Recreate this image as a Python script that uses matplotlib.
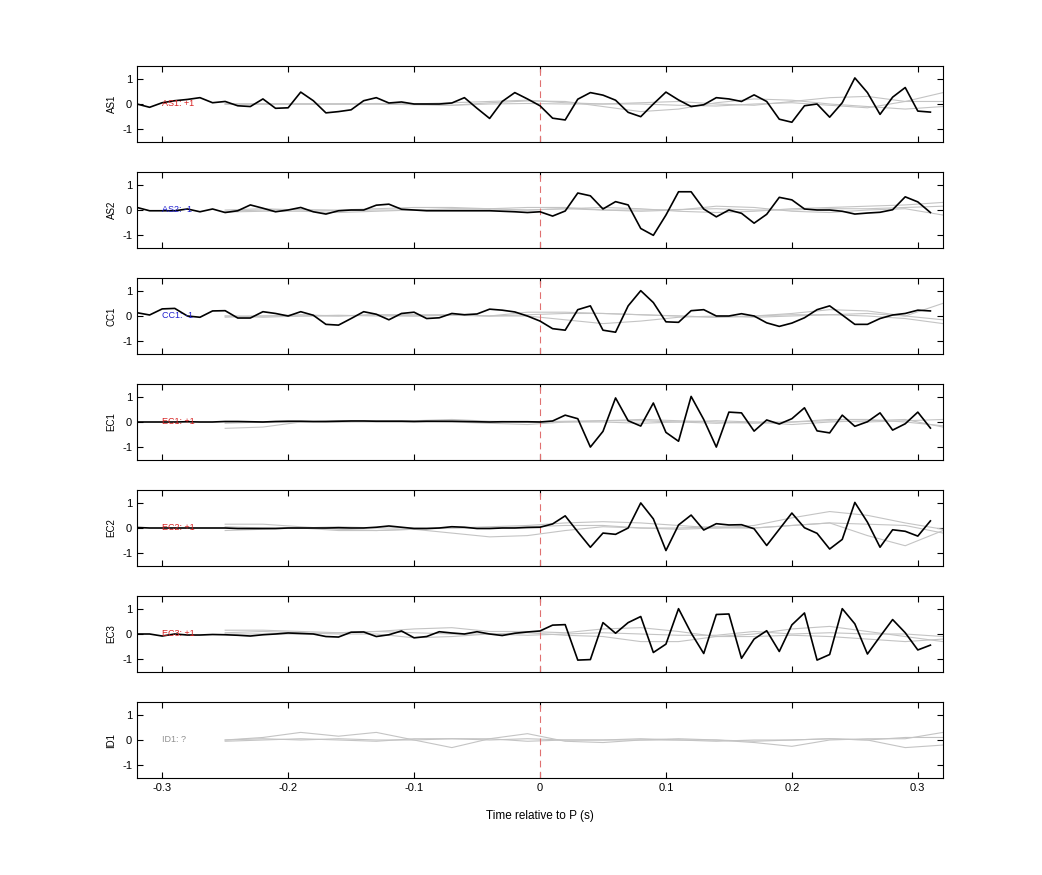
import numpy as np
import matplotlib.pyplot as plt

plt.rcParams['font.family'] = ['Liberation Sans', 'DejaVu Sans']
plt.rcParams['axes.unicode_minus'] = False

# station names and polarity picks
stations = ['AS1', 'AS2', 'CC1', 'EC1', 'EC2', 'EC3', 'ID1']
picks = ['AS1: +1', 'AS2: -1', 'CC1: -1', 'EC1: +1', 'EC2: +1', 'EC3: +1', 'ID1: ?']
pick_colors = ['#d62020', '#2020d0', '#2020d0', '#d62020', '#d62020', '#d62020', '#909090']

# black trace: samples every 0.01 s from -0.32 to 0.31
t_black = np.round(np.arange(-0.32, 0.315, 0.01), 2)
as1 = [0.0, -0.13, 0.05, 0.13, 0.18, 0.25, 0.05, 0.1, -0.07, -0.1, 0.2, -0.17, -0.15, 0.47, 0.13, -0.35, -0.3,
       -0.23, 0.13, 0.25, 0.04, 0.08, 0.0, 0.0, 0.0, 0.04, 0.25, -0.17, -0.57, 0.1, 0.45, 0.2, -0.07,
       -0.56, -0.63, 0.19, 0.45, 0.35, 0.15, -0.33, -0.5, 0.0, 0.47, 0.16, -0.1, -0.03, 0.25, 0.2, 0.1,
       0.36, 0.1, -0.6, -0.72, -0.07, 0.0, -0.52, 0.05, 1.03, 0.45, -0.41, 0.27, 0.65, -0.28, -0.32]
as2 = [0.1, -0.03, -0.03, -0.03, 0.04, -0.07, 0.04, -0.1, -0.03, 0.2, 0.07, -0.07, 0.0, 0.1, -0.07, -0.16,
       -0.03, 0.0, 0.0, 0.19, 0.23, 0.03, 0.0, -0.03, -0.03, -0.03, -0.03, -0.03, -0.03, -0.05, -0.07, -0.1, -0.07,
       -0.24, -0.04, 0.67, 0.56, 0.04, 0.33, 0.2, -0.73, -1.0, -0.2, 0.72, 0.72, 0.04, -0.27, 0.0, -0.13,
       -0.52, -0.17, 0.5, 0.4, 0.04, 0.0, 0.0, -0.05, -0.16, -0.12, -0.09, 0.01, 0.52, 0.32, -0.1]
cc1 = [0.13, 0.04, 0.28, 0.3, 0.0, -0.05, 0.2, 0.21, -0.08, -0.08, 0.17, 0.1, 0.0, 0.17, 0.03, -0.33,
       -0.36, -0.1, 0.17, 0.07, -0.15, 0.1, 0.15, -0.1, -0.07, 0.1, 0.05, 0.08, 0.27, 0.23, 0.16, 0.0,
       -0.2, -0.5, -0.56, 0.25, 0.4, -0.56, -0.64, 0.4, 1.0, 0.53, -0.23, -0.25, 0.21, 0.25, 0.0, 0.0,
       0.09, 0.0, -0.27, -0.41, -0.28, -0.07, 0.25, 0.4, 0.04, -0.33, -0.33, -0.1, 0.04, 0.1, 0.23, 0.2]
ec1 = [0.0, 0.0, 0.0, 0.0, 0.01, 0.0, 0.0, 0.02, 0.02, 0.01, 0.0, 0.02, 0.03, 0.03, 0.02, 0.02,
       0.03, 0.04, 0.04, 0.03, 0.03, 0.03, 0.02, 0.03, 0.03, 0.03, 0.02, 0.01, 0.0, 0.01, 0.01, 0.01,
       0.0, 0.04, 0.27, 0.13, -0.99, -0.37, 0.95, 0.05, -0.16, 0.75, -0.41, -0.76, 1.01, 0.1, -0.99, 0.39,
       0.36, -0.36, 0.08, -0.08, 0.13, 0.56, -0.35, -0.43, 0.27, -0.17, 0.01, 0.36, -0.32, -0.07, 0.39, -0.24]
ec2 = [0.02, 0.0, 0.0, 0.0, 0.0, 0.0, 0.0, 0.0, -0.02, -0.02, -0.02, -0.02, 0.0, 0.0, 0.0, 0.0,
       0.01, 0.0, 0.0, 0.03, 0.08, 0.03, -0.02, -0.02, 0.0, 0.05, 0.03, -0.02, -0.02, 0.0, 0.0, 0.02,
       0.03, 0.16, 0.48, -0.15, -0.76, -0.2, -0.25, 0.0, 0.99, 0.36, -0.89, 0.12, 0.51, -0.08, 0.17, 0.12,
       0.13, -0.03, -0.69, -0.05, 0.59, 0.01, -0.21, -0.83, -0.45, 1.01, 0.23, -0.76, -0.07, -0.13, -0.32, 0.28]
ec3 = [0.0, 0.0, -0.08, 0.0, -0.04, -0.04, -0.02, -0.03, -0.05, -0.08, -0.03, 0.0, 0.04, 0.02, 0.0, -0.1, -0.12,
       0.07, 0.08, -0.1, -0.03, 0.12, -0.15, -0.1, 0.09, 0.04, 0.0, 0.09, 0.0, -0.06, 0.03, 0.08, 0.12,
       0.35, 0.37, -1.03, -1.01, 0.45, 0.03, 0.45, 0.69, -0.73, -0.4, 1.0, 0.04, -0.77, 0.77, 0.79, -0.96,
       -0.2, 0.13, -0.69, 0.36, 0.83, -1.03, -0.81, 1.0, 0.4, -0.79, -0.1, 0.57, 0.05, -0.63, -0.44]
black = [as1, as2, cc1, ec1, ec2, ec3, None]

# gray traces: samples every 0.03 s from -0.25 to 0.32
t_gray = np.round(np.arange(-0.25, 0.33, 0.03), 2)
gray = [
    [[0.0, 0.0, 0.0, 0.0, 0.02, 0.0, -0.05, 0.05, 0.12, 0.1, -0.1, -0.3, -0.2, 0.05, 0.2, 0.15, 0.0, -0.1, -0.2, -0.1],
     [0.0, 0.0, 0.0, 0.0, 0.0, 0.0, 0.05, 0.1, 0.15, 0.05, 0.0, 0.05, 0.1, 0.0, -0.05, 0.1, 0.25, 0.3, 0.1, 0.45],
     [0.0, 0.0, 0.0, 0.0, 0.0, -0.03, -0.05, 0.0, 0.02, 0.0, 0.0, 0.0, -0.05, -0.08, 0.0, 0.05, -0.05, -0.15, 0.1, 0.1]],
    [[-0.08, -0.05, -0.05, -0.1, -0.05, 0.0, 0.05, 0.05, 0.0, 0.05, 0.1, 0.05, -0.05, -0.1, -0.05, 0.05, 0.1, 0.15, 0.2, 0.3],
     [0.0, 0.05, 0.0, 0.0, 0.05, 0.1, 0.1, 0.05, 0.1, 0.1, 0.0, -0.05, 0.0, 0.15, 0.1, -0.05, -0.1, 0.0, 0.05, -0.2],
     [-0.05, 0.0, 0.02, -0.03, 0.0, 0.0, 0.0, 0.0, 0.0, 0.05, 0.0, 0.0, 0.02, 0.05, 0.0, 0.0, 0.05, 0.05, 0.1, 0.15]],
    [[0.0, -0.05, 0.0, 0.0, 0.05, 0.0, 0.05, 0.0, 0.15, 0.15, 0.1, 0.05, 0.0, -0.05, 0.0, 0.1, 0.25, 0.2, 0.0, 0.5],
     [-0.05, 0.0, 0.05, 0.0, 0.05, 0.05, 0.05, 0.0, 0.0, -0.15, -0.3, -0.2, -0.05, 0.0, -0.05, 0.0, 0.05, 0.0, -0.1, -0.3],
     [0.0, 0.0, 0.0, 0.03, 0.0, 0.0, 0.03, 0.0, 0.05, 0.1, 0.1, 0.05, 0.0, -0.05, 0.0, 0.05, 0.05, 0.1, 0.0, -0.15]],
    [[-0.25, -0.2, 0.0, 0.05, 0.03, 0.05, 0.1, 0.03, 0.0, 0.0, 0.05, 0.1, 0.05, 0.0, -0.05, 0.0, 0.1, 0.1, 0.0, -0.15],
     [-0.05, 0.0, 0.0, 0.0, 0.05, 0.05, 0.0, -0.05, -0.1, 0.0, 0.0, -0.05, 0.0, 0.05, 0.0, -0.1, 0.0, 0.05, 0.1, -0.2],
     [0.0, 0.0, 0.0, 0.0, 0.0, 0.0, 0.0, 0.0, 0.0, 0.03, 0.05, 0.05, 0.0, -0.05, 0.0, 0.0, 0.05, 0.0, 0.05, 0.1]],
    [[0.15, 0.15, 0.05, -0.05, -0.1, -0.05, 0.0, 0.05, 0.1, 0.2, 0.25, 0.2, 0.1, 0.0, 0.1, 0.4, 0.65, 0.5, 0.2, -0.05],
     [-0.1, -0.05, 0.0, -0.1, -0.1, -0.05, -0.2, -0.35, -0.3, -0.1, 0.05, 0.0, -0.05, 0.0, 0.0, 0.1, 0.2, -0.3, -0.7, -0.1],
     [0.05, 0.0, 0.0, 0.05, 0.0, 0.0, 0.0, 0.0, 0.05, 0.1, 0.1, 0.0, 0.0, 0.05, 0.0, 0.1, 0.2, 0.15, 0.1, -0.2]],
    [[0.15, 0.15, 0.1, 0.05, 0.1, 0.2, 0.25, 0.1, 0.1, 0.05, 0.2, 0.25, 0.1, -0.1, 0.0, 0.2, 0.3, 0.1, -0.1, -0.3],
     [0.05, 0.1, 0.05, 0.0, 0.0, -0.15, -0.1, 0.0, 0.05, -0.05, -0.1, -0.3, -0.3, -0.1, -0.1, -0.05, -0.1, -0.2, -0.3, -0.2],
     [0.0, 0.0, 0.0, 0.05, 0.1, 0.05, 0.0, 0.0, -0.05, 0.0, 0.05, 0.0, -0.05, -0.05, 0.1, 0.0, 0.05, 0.0, 0.0, -0.1]],
    [[0.0, 0.1, 0.3, 0.15, 0.3, 0.0, -0.3, 0.05, 0.25, -0.05, -0.1, 0.0, 0.05, 0.0, -0.1, -0.25, 0.0, 0.05, 0.05, 0.3],
     [-0.05, 0.0, 0.05, 0.0, -0.05, 0.05, 0.05, 0.05, -0.05, 0.0, 0.0, 0.05, 0.0, -0.05, 0.0, 0.0, 0.05, 0.0, -0.3, -0.2],
     [0.0, 0.05, 0.0, 0.05, 0.0, 0.0, 0.05, 0.0, 0.05, 0.0, 0.0, 0.0, 0.0, 0.0, -0.05, 0.0, 0.05, 0.0, 0.1, 0.1]],
]

fig = plt.figure(figsize=(10.42, 8.75), dpi=100)
W, H = 1042, 875
for k in range(7):
    top = 66 + 106 * k
    ax = fig.add_axes([137 / W, (H - top - 76) / H, 806 / W, 76 / H])
    for g in gray[k]:
        ax.plot(t_gray, g, color='#c4c4c4', lw=0.8)
    ax.axvline(0, color='#e07070', lw=0.8, dashes=(6, 4))
    if black[k] is not None:
        ax.plot(t_black, black[k], color='black', lw=1.2)
    ax.text(-0.30, 0, picks[k], color=pick_colors[k], fontsize=6.5, va='center', ha='left')
    ax.set_xlim(-0.32, 0.32)
    ax.set_ylim(-1.5, 1.5)
    ax.set_yticks([-1, 0, 1])
    ax.set_ylabel(stations[k], fontsize=7)
    ax.tick_params(direction='in', top=True, right=True, labelsize=8, length=4)
    if k < 6:
        ax.set_xticklabels([])
    else:
        ax.set_xticks([-0.3, -0.2, -0.1, 0, 0.1, 0.2, 0.3])
        ax.set_xticklabels(['-0.3', '-0.2', '-0.1', '0', '0.1', '0.2', '0.3'])
        ax.set_xlabel('Time relative to P (s)', fontsize=8.5, labelpad=12)

fig.savefig('out.png', dpi=100)
